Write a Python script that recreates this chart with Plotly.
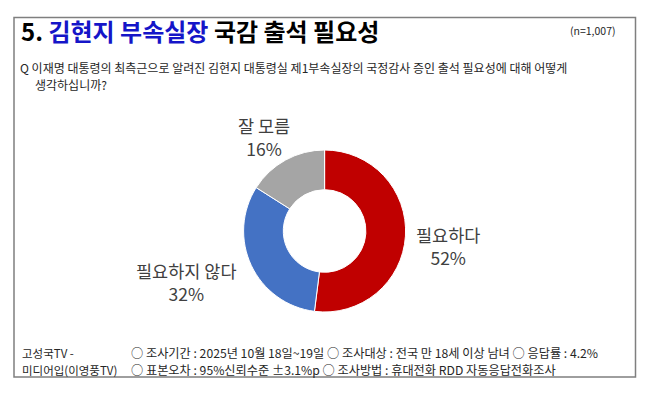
import plotly.graph_objects as go

labels = ["필요하다", "필요하지 않다", "잘 모름"]
values = [52, 32, 16]
colors = ["#C00000", "#4472C4", "#A5A5A5"]

title_num = "5."
title_blue = "김현지 부속실장"
title_rest = "국감 출석 필요성"
sample_n = "(n=1,007)"
question_1 = "Q 이재명 대통령의 최측근으로 알려진 김현지 대통령실 제1부속실장의 국정감사 증인 출석 필요성에 대해 어떻게"
question_2 = "생각하십니까?"
source_1 = "고성국TV -"
source_2 = "미디어입(이영풍TV)"
method_1 = "○ 조사기간 : 2025년 10월 18일~19일 ○ 조사대상 : 전국 만 18세 이상 남녀 ○ 응답률 : 4.2%"
method_2 = "○ 표본오차 : 95%신뢰수준 ±3.1%p ○ 조사방법 : 휴대전화 RDD 자동응답전화조사"

W, H = 650, 396
FONT = "Noto Sans CJK KR"
TXT = "#262626"

def px(x):
    return x / W

def py(y):
    return 1 - y / H

cx, cy, r = 324.6, 231, 81

fig = go.Figure(go.Pie(
    labels=labels,
    values=values,
    marker=dict(colors=colors, line=dict(color="white", width=1)),
    hole=0.51,
    sort=False,
    direction="clockwise",
    rotation=0,
    textinfo="none",
    hoverinfo="label+percent",
    showlegend=False,
    domain=dict(x=[px(cx - r), px(cx + r)], y=[py(cy + r), py(cy - r)]),
))

# label centre positions in pixels
label_pos = [(448, 246), (186, 282), (264, 137)]
annotations = []
for (lx, ly), lab, v in zip(label_pos, labels, values):
    annotations.append(dict(
        x=px(lx), y=py(ly), xref="paper", yref="paper",
        text=f"{lab}<br>{v}%", showarrow=False, borderpad=0,
        font=dict(family=FONT, size=17.5, color="#404040"),
        align="center", xanchor="center", yanchor="middle",
    ))

def txt(x, y, s, size, anchor="left"):
    return dict(x=px(x), y=py(y), xref="paper", yref="paper", xanchor=anchor,
                yanchor="middle", text=s, showarrow=False,
                font=dict(family=FONT, size=size, color=TXT))

annotations += [
    dict(x=px(19), y=py(30), xref="paper", yref="paper", xanchor="left", yanchor="middle",
         text=f"<b>{title_num} <span style='color:#1515C8'>{title_blue}</span> {title_rest}</b>",
         showarrow=False, font=dict(family=FONT, size=24, color="black")),
    txt(618, 30, sample_n, 10.5, "right"),
    txt(18, 67, question_1, 12),
    txt(33, 84, question_2, 12),
    txt(20, 353, source_1, 11.5),
    txt(20, 370, source_2, 11.5),
    txt(129, 353, method_1, 12.2),
    txt(129, 370, method_2, 12.2),
]

fig.update_layout(
    width=W, height=H,
    margin=dict(l=0, r=0, t=0, b=0),
    paper_bgcolor="white", plot_bgcolor="white",
    font=dict(family=FONT),
    annotations=annotations,
    shapes=[dict(type="rect", xref="paper", yref="paper",
                 x0=px(14), x1=px(635.5), y0=py(377), y1=py(17.5),
                 line=dict(color="#7F7F7F", width=1.5), fillcolor="rgba(0,0,0,0)")],
)

fig.write_html("out.html", config={"displayModeBar": False},
               post_script="document.body.style.margin='0';")
